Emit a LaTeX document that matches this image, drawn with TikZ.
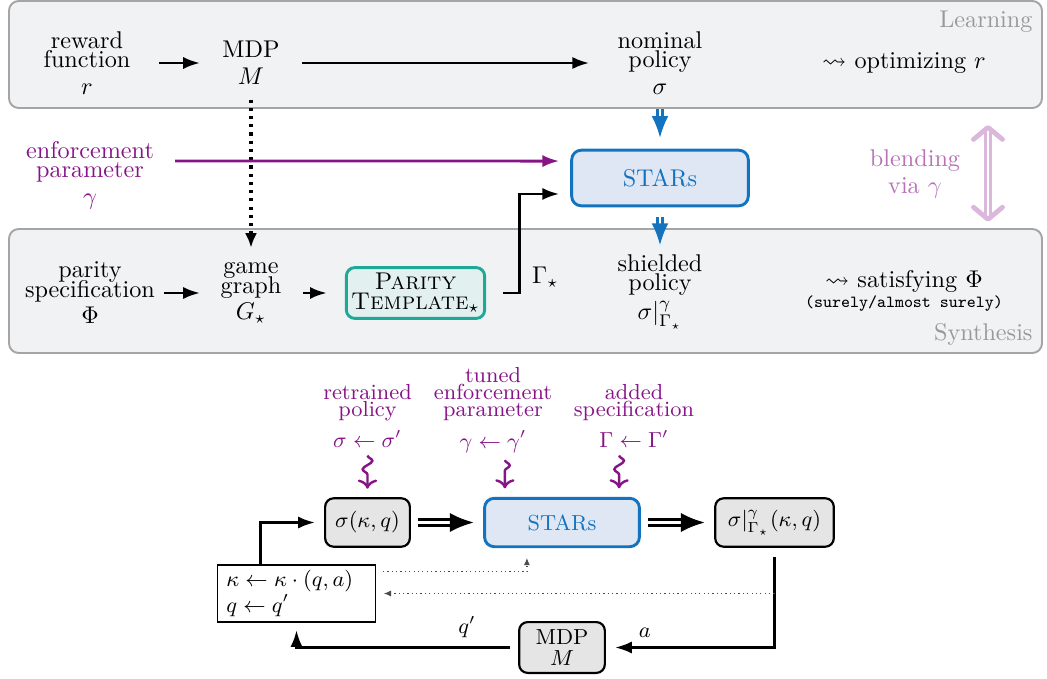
\documentclass[tikz,border=0pt]{standalone}
\usepackage{amsmath,amssymb}
\usetikzlibrary{arrows.meta,calc,decorations.pathmorphing}

\definecolor{panelfill}{RGB}{241,242,244}
\definecolor{paneldraw}{RGB}{165,165,165}
\definecolor{enfpurple}{RGB}{135,20,135}
\definecolor{starsblue}{RGB}{20,115,190}
\definecolor{starsfill}{RGB}{223,231,245}
\definecolor{tmplteal}{RGB}{30,168,150}
\definecolor{tmplfill}{RGB}{226,240,239}
\definecolor{boxgray}{RGB}{229,229,229}

\newcommand{\tightlines}{\fontsize{10}{8}\selectfont\lineskiplimit=-1em}
\newcommand{\smalllines}{\fontsize{9}{7}\selectfont\lineskiplimit=-1em}

\begin{document}
\begin{tikzpicture}[x=0.4132pt, y=-0.4132pt]
	\tikzset{
		panel/.style={draw=paneldraw, fill=panelfill, line width=0.8pt, rounded corners=4pt},
		panellbl/.style={text=black!40, inner sep=0pt, font=\tightlines},
		lbl/.style={align=center, inner sep=6pt, font=\tightlines},
		blbl/.style={align=center, inner sep=3pt, text=enfpurple, font=\smalllines},
		stars/.style={draw=starsblue, fill=starsfill, text=starsblue, line width=1.2pt, rounded corners=4pt},
		tmpl/.style={draw=tmplteal, fill=tmplfill, line width=1.2pt, rounded corners=3.5pt, align=center,
				inner sep=2pt, font=\tightlines, minimum width=57pt, minimum height=21pt},
		grbox/.style={draw, fill=boxgray, line width=0.9pt, rounded corners=3.5pt, align=center,
				inner sep=2pt, font=\smalllines, minimum height=20pt},
		flow/.style={-{Latex[length=7pt,width=5pt]}, line width=1.2pt},
		enfflow/.style={flow, draw=enfpurple},
		blueflow/.style={draw=starsblue, double=white, double distance=1.2pt, line width=1pt,
				-{Latex[length=9pt,width=7pt]}},
		dblflow/.style={double=white, double distance=1.1pt, line width=1.4pt,
				-{Latex[length=10pt,width=8pt]}},
		blendflow/.style={draw=enfpurple!30, double=white, double distance=1.2pt, line width=0.9pt,
				{Straight Barb[length=5pt,width=12pt,line width=2pt,round]}-{Straight Barb[length=5pt,width=12pt,line width=2pt,round]}},
		mdots/.style={line width=1.3pt, dash pattern=on 1.3pt off 2.1pt, -{Latex[length=6pt,width=5pt]}},
		fdots/.style={draw=black!70, line width=0.5pt, dash pattern=on 0.5pt off 1.3pt, -{Latex[length=3pt,width=2.5pt]}},
		squig/.style={draw=enfpurple, line width=1pt, -{To}, decorate,
				decoration={snake, amplitude=2pt, segment length=7pt, post length=5pt}}
	}
	\useasboundingbox (0,0) rectangle (1047,679);

	% learning / synthesis panels
	\draw[panel] (9,1) rectangle (1042,108);
	\draw[panel] (9,229) rectangle (1042,353);
	\node[panellbl, anchor=base east] (learnlbl) at (1033,27) {Learning};
	\node[panellbl, anchor=base east] (synthlbl) at (1033,340) {Synthesis};

	% top row
	\node[lbl] (reward) at (87,63) {reward\\function\\[3pt]$r$};
	\node[lbl] (mdp) at (251,63) {MDP\\[3pt]$M$};
	\node[lbl] (nominal) at (660,63) {nominal\\policy\\[3pt]$\sigma$};
	\node[lbl] (optim) at (904,63) {$\leadsto$ optimizing $r$};

	% middle row
	\node[lbl, text=enfpurple] (enf) at (90,175) {enforcement\\parameter\\[3pt]$\gamma$};
	\node[stars, minimum width=73pt, minimum height=23pt, font=\tightlines] (stars) at (660,178) {STARs};
	\node[lbl, text=enfpurple!60] (blend) at (915,174) {blending\\[3pt]via $\gamma$};

	% synthesis row
	\node[lbl] (spec) at (90,293) {parity\\specification\\[3pt]$\Phi$};
	\node[lbl] (game) at (251,293) {game\\graph\\[3pt]$G_\star$};
	\node[tmpl] (tmpl) at (415.5,293) {\textsc{Parity}\\\textsc{Template}$_\star$};
	\node[lbl] (shielded) at (660,292) {shielded\\policy\\[4pt]$\sigma|^{\gamma}_{\Gamma_\star}$};
	\node[lbl] (satis) at (904,291) {$\leadsto$ satisfying $\Phi$\\{\scriptsize\texttt{(surely/almost surely)}}};

	\draw[flow, shorten <=5.5pt, shorten >=3pt] (reward) -- (mdp);
	\draw[flow, shorten <=3pt, shorten >=5.5pt] (mdp) -- (nominal);
	\draw[mdots] (mdp) -- (game);
	\draw[flow, shorten <=-2.3pt, shorten >=2.3pt] (spec) -- (game);
	\draw[flow, shorten <=2.7pt, shorten >=7.4pt] (game) -- (tmpl);
	\draw[flow] ([xshift=7pt]tmpl.east) -- ++(16,0)
		|- node[pos=0.08, right, xshift=1.5pt] (gammalbl) {$\Gamma_\star$} ([xshift=-4.5pt, yshift=-6.6pt]stars.west);
	\draw[enfflow, shorten <=2.6pt, shorten >=4.5pt] ([yshift=5.8pt]enf.east) -- ([yshift=7pt]stars.west);
	\draw[blueflow, shorten >=4.5pt] (nominal) -- (stars);
	\draw[blueflow, shorten <=4pt, shorten >=-2.3pt] (stars) -- (shielded);

	\coordinate (blup) at (988,108);
	\coordinate (bldown) at (988,229);
	\draw[blendflow, shorten <=7pt, shorten >=3pt] (blup) -- (bldown);

	% runtime loop
	\node[blbl] (retr) at (367.5,416) {retrained\\policy\\[6pt]$\sigma \leftarrow \sigma'$};
	\node[blbl] (tuned) at (493,410) {tuned\\enforcement\\parameter\\[6pt]$\gamma \leftarrow \gamma'$};
	\node[blbl] (added) at (634,416) {added\\specification\\[6pt]$\Gamma \leftarrow \Gamma'$};

	\node[grbox, minimum width=35pt] (pol) at (367.5,522.5) {$\sigma(\kappa,q)$};
	\node[stars, minimum width=64pt, minimum height=20pt, font=\smalllines] (stars2) at (562,522.5) {STARs};
	\node[grbox, minimum width=49pt] (shield) at (774.5,522.5) {$\sigma|^{\gamma}_{\Gamma_\star}(\kappa,q)$};
	\node[grbox, minimum width=35.4pt, minimum height=21pt] (mdp2) at (562,647.5) {MDP\\[2pt]$M$};
	\node[draw, line width=0.5pt, fill=white, align=left, text width=58pt, inner xsep=3.5pt, inner ysep=2pt,
		minimum height=23.6pt, font=\fontsize{9}{8.5}\selectfont] (upd) at (296.5,593.5)
		{$\kappa \leftarrow \kappa\cdot(q,a)$\\$q \leftarrow q'$};

	\draw[squig] (retr.south) -- ([yshift=3.5pt]pol.north);
	\coordinate (sqin) at ([xshift=9pt]stars2.north west);
	\coordinate (sqsp) at ([xshift=-9pt]stars2.north east);
	\draw[squig] (sqin |- tuned.south) -- ([yshift=3.5pt]sqin);
	\draw[squig] (sqsp |- added.south) -- ([yshift=3.5pt]sqsp);

	\draw[dblflow, shorten <=3pt, shorten >=3.7pt] (pol) -- (stars2);
	\draw[dblflow, shorten <=3pt, shorten >=3.7pt] (stars2) -- (shield);
	\draw[flow, shorten <=3.7pt, shorten >=3.7pt] (shield.south)
		|- node[pos=0.885, above, font=\smalllines] (alab) {$a$} (mdp2.east);
	\draw[flow, shorten <=3.3pt, shorten >=3pt] (mdp2.west)
		-| node[pos=0.115, above, font=\smalllines] (qlab) {$q'$} (upd.south);
	\draw[flow, shorten >=3.7pt] ([xshift=17.8pt]upd.north west) |- (pol.west);
	\draw[fdots, shorten <=3pt, shorten >=4pt] ([yshift=-3pt]upd.north east) -| ([xshift=-14.5pt]stars2.south);
	\draw[fdots, shorten >=3.3pt] (shield.south |- upd.east) -- (upd.east);
\end{tikzpicture}
\end{document}
